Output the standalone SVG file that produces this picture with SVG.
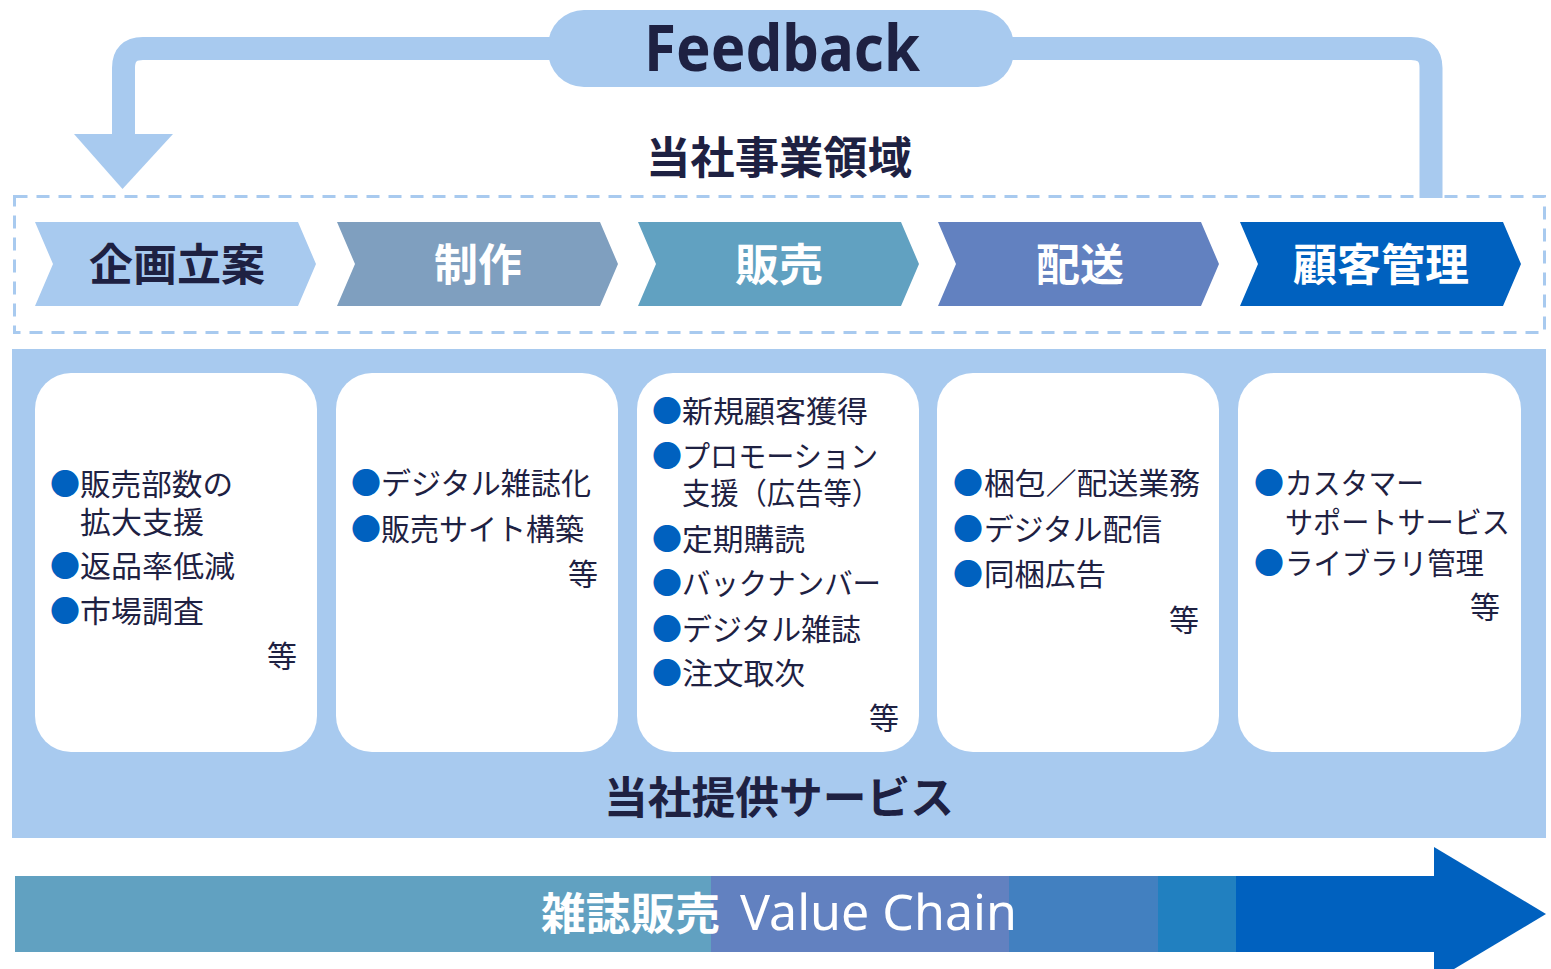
<svg xmlns="http://www.w3.org/2000/svg" width="1551" height="969" viewBox="0 0 1551 969">
<style>
.jp{font-family:"Noto Sans CJK JP","Noto Sans",sans-serif;}
.h{font-size:44px;font-weight:700;fill:#1e2142;text-anchor:middle;}
.cw{font-size:44px;font-weight:700;fill:#ffffff;text-anchor:middle;}
.t{font-size:30px;font-weight:400;fill:#1e2142;}
.b{fill:#0061bf;font-size:30px;}
.e{text-anchor:end;}
.box{fill:#ffffff;}
</style>
<rect width="1551" height="969" fill="#ffffff"/>
<g id="connectors">
<path d="M 560 48.5 H 143 Q 123.5 48.5 123.5 68 V 138" fill="none" stroke="#a8caef" stroke-width="23"/>
<polygon points="74,134 173,134 122.5,189" fill="#a8caef"/>
<path d="M 1000 48.5 H 1411 Q 1431 48.5 1431 68 V 198" fill="none" stroke="#a8caef" stroke-width="23"/>
</g>
<g id="feedback">
<rect x="548" y="10" width="466" height="77" rx="36" fill="#a8caef"/>
<text x="782" y="71" font-family="'Noto Sans',sans-serif" font-size="64" font-weight="700" fill="#1e2142" text-anchor="middle" textLength="276" lengthAdjust="spacingAndGlyphs">Feedback</text>
</g>
<g id="domain-title">
<text class="jp h" x="779" y="174" textLength="266" lengthAdjust="spacingAndGlyphs">当社事業領域</text>
</g>
<g id="domain-frame">
<rect x="14.5" y="196.5" width="1530" height="136" fill="none" stroke="#a8caef" stroke-width="3" stroke-dasharray="13 9"/>
</g>
<g id="step-planning">
<polygon points="35,222 298,222 316,264 298,306 35,306 53,264" fill="#a8caef"/>
<text class="jp h" x="177" y="281">企画立案</text>
</g>
<g id="step-production">
<polygon points="337,222 600,222 618,264 600,306 337,306 355,264" fill="#7f9fbf"/>
<text class="jp cw" x="478" y="281">制作</text>
</g>
<g id="step-sales">
<polygon points="638,222 901,222 919,264 901,306 638,306 656,264" fill="#61a1c1"/>
<text class="jp cw" x="779" y="281">販売</text>
</g>
<g id="step-delivery">
<polygon points="938,222 1201,222 1219,264 1201,306 938,306 956,264" fill="#6281c0"/>
<text class="jp cw" x="1080" y="281">配送</text>
</g>
<g id="step-crm">
<polygon points="1240,222 1503,222 1521,264 1503,306 1240,306 1258,264" fill="#0061bf"/>
<text class="jp cw" x="1381" y="281">顧客管理</text>
</g>
<g id="services-panel">
<rect x="12" y="349" width="1534" height="489" fill="#a8caef"/>
<text class="jp h" x="779" y="814" textLength="350" lengthAdjust="spacingAndGlyphs">当社提供サービス</text>
</g>
<g id="box-planning">
<rect class="box" x="35" y="373" width="282" height="379" rx="36"/>
<text class="jp b" x="50" y="495">●</text>
<text class="jp t" x="80" y="495" textLength="153" lengthAdjust="spacingAndGlyphs">販売部数の</text>
<text class="jp t" x="80" y="533" textLength="124" lengthAdjust="spacingAndGlyphs">拡大支援</text>
<text class="jp b" x="50" y="577">●</text>
<text class="jp t" x="80" y="577" textLength="155" lengthAdjust="spacingAndGlyphs">返品率低減</text>
<text class="jp b" x="50" y="622">●</text>
<text class="jp t" x="80" y="622" textLength="124" lengthAdjust="spacingAndGlyphs">市場調査</text>
<text class="jp t e" x="297" y="667">等</text>
</g>
<g id="box-production">
<rect class="box" x="336" y="373" width="282" height="379" rx="36"/>
<text class="jp b" x="351" y="494">●</text>
<text class="jp t" x="381" y="494" textLength="210" lengthAdjust="spacingAndGlyphs">デジタル雑誌化</text>
<text class="jp b" x="351" y="540">●</text>
<text class="jp t" x="381" y="540" textLength="203" lengthAdjust="spacingAndGlyphs">販売サイト構築</text>
<text class="jp t e" x="598" y="585">等</text>
</g>
<g id="box-sales">
<rect class="box" x="637" y="373" width="282" height="379" rx="36"/>
<text class="jp b" x="652" y="422">●</text>
<text class="jp t" x="682" y="422" textLength="186" lengthAdjust="spacingAndGlyphs">新規顧客獲得</text>
<text class="jp b" x="652" y="467">●</text>
<text class="jp t" x="682" y="467" textLength="196" lengthAdjust="spacingAndGlyphs">プロモーション</text>
<text class="jp t" x="682" y="504" textLength="198" lengthAdjust="spacingAndGlyphs">支援（広告等）</text>
<text class="jp b" x="652" y="550">●</text>
<text class="jp t" x="682" y="550" textLength="123" lengthAdjust="spacingAndGlyphs">定期購読</text>
<text class="jp b" x="652" y="594">●</text>
<text class="jp t" x="682" y="594" textLength="199" lengthAdjust="spacingAndGlyphs">バックナンバー</text>
<text class="jp b" x="652" y="640">●</text>
<text class="jp t" x="682" y="640" textLength="179" lengthAdjust="spacingAndGlyphs">デジタル雑誌</text>
<text class="jp b" x="652" y="684">●</text>
<text class="jp t" x="682" y="684" textLength="123" lengthAdjust="spacingAndGlyphs">注文取次</text>
<text class="jp t e" x="899" y="729">等</text>
</g>
<g id="box-delivery">
<rect class="box" x="937" y="373" width="282" height="379" rx="36"/>
<text class="jp b" x="953" y="494">●</text>
<text class="jp t" x="984" y="494" textLength="216" lengthAdjust="spacingAndGlyphs">梱包／配送業務</text>
<text class="jp b" x="953" y="540">●</text>
<text class="jp t" x="984" y="540" textLength="178" lengthAdjust="spacingAndGlyphs">デジタル配信</text>
<text class="jp b" x="953" y="585">●</text>
<text class="jp t" x="984" y="585" textLength="122" lengthAdjust="spacingAndGlyphs">同梱広告</text>
<text class="jp t e" x="1199" y="631">等</text>
</g>
<g id="box-crm">
<rect class="box" x="1238" y="373" width="283" height="379" rx="36"/>
<text class="jp b" x="1254" y="494">●</text>
<text class="jp t" x="1285" y="494" textLength="139" lengthAdjust="spacingAndGlyphs">カスタマー</text>
<text class="jp t" x="1285" y="533" textLength="225" lengthAdjust="spacingAndGlyphs">サポートサービス</text>
<text class="jp b" x="1254" y="574">●</text>
<text class="jp t" x="1285" y="574" textLength="199" lengthAdjust="spacingAndGlyphs">ライブラリ管理</text>
<text class="jp t e" x="1500" y="618">等</text>
</g>
<g id="value-chain">
<rect x="15" y="876" width="697" height="76" fill="#61a1c1"/>
<rect x="711" y="876" width="299" height="76" fill="#6281c0"/>
<rect x="1009" y="876" width="150" height="76" fill="#4280c0"/>
<rect x="1158" y="876" width="79" height="76" fill="#2180c0"/>
<rect x="1236" y="876" width="200" height="76" fill="#0061bf"/>
<polygon points="1434,847 1546,914 1434,981" fill="#0061bf"/>
<text class="jp" x="541" y="930" font-size="44" font-weight="700" fill="#ffffff" textLength="179" lengthAdjust="spacingAndGlyphs">雑誌販売</text>
<text x="740" y="930" font-family="'Noto Sans',sans-serif" font-size="50" font-weight="400" fill="#ffffff" textLength="277" lengthAdjust="spacingAndGlyphs">Value Chain</text>
</g>
</svg>
